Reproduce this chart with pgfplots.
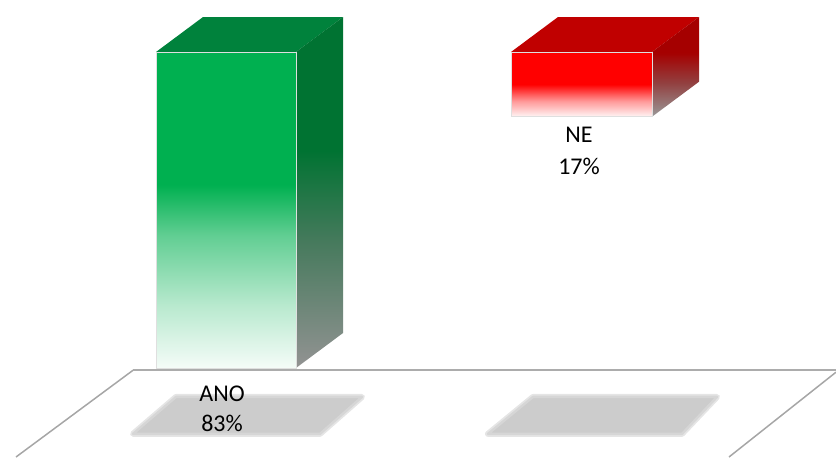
\documentclass[border=0pt]{standalone}
\usepackage{pgfplots}
\pgfplotsset{compat=1.18}
\usepackage{fontspec}
\setmainfont{Carlito}
\definecolor{gfront}{RGB}{0,176,80}
\definecolor{gtop}{RGB}{0,130,60}
\definecolor{gside}{RGB}{0,115,50}
\definecolor{rfront}{RGB}{255,0,0}
\definecolor{rtop}{RGB}{192,0,0}
\definecolor{rside}{RGB}{165,0,0}
\pgfdeclareverticalshading{gfrontsh}{100bp}{color(0bp)=(gfront!4!white); color(25bp)=(gfront!4!white); color(35bp)=(gfront!28!white); color(46bp)=(gfront!62!white); color(54bp)=(gfront); color(75bp)=(gfront); color(100bp)=(gfront)}
\pgfdeclareverticalshading{gsidesh}{100bp}{color(0bp)=(gray!85); color(25bp)=(gray!85); color(43bp)=(gside!45!gray); color(56bp)=(gside); color(75bp)=(gside); color(100bp)=(gside)}
\pgfdeclareverticalshading{rfrontsh}{100bp}{color(0bp)=(rfront!4!white); color(25bp)=(rfront!4!white); color(37bp)=(rfront!40!white); color(50bp)=(rfront); color(75bp)=(rfront); color(100bp)=(rfront)}
\pgfdeclareverticalshading{rsidesh}{100bp}{color(0bp)=(gray!80); color(25bp)=(gray!80); color(42bp)=(rside!50!gray); color(57bp)=(rside); color(75bp)=(rside); color(100bp)=(rside)}
\begin{document}
\begin{tikzpicture}
\begin{axis}[
  width=418pt, height=228.5pt, scale only axis,
  xmin=0, xmax=836, ymin=-13.66, ymax=106.38,
  y dir=reverse, hide axis, clip=true,
]
% floor
\addplot[draw=gray!70, line width=0.75pt] coordinates {(133,83.6) (16,106.38)};
\addplot[draw=gray!65, line width=1.2pt] coordinates {(133,83.6) (836,83.6)};
\addplot[draw=gray!70, line width=0.75pt] coordinates {(836,84.1) (729,106.38)};
% floor shadows
\addplot[fill=gray!20, draw=gray!20, line width=3pt, line join=round] coordinates {(176,90.6) (362,90.6) (320,100.3) (133,100.3)} --cycle;
\addplot[fill=gray!40, draw=gray!32, line width=1.2pt, line join=round] coordinates {(176,90.6) (362,90.6) (320,100.3) (133,100.3)} --cycle;
\addplot[fill=gray!20, draw=gray!20, line width=3pt, line join=round] coordinates {(533,90.6) (717,90.6) (682,100.3) (488,100.3)} --cycle;
\addplot[fill=gray!40, draw=gray!32, line width=1.2pt, line join=round] coordinates {(533,90.6) (717,90.6) (682,100.3) (488,100.3)} --cycle;
% ANO bar (83)
\addplot[fill=gtop, draw=none] coordinates {(156,0) (203,-9.19) (343,-9.19) (296,0)} --cycle;
\addplot[shading=gsidesh, draw=none] coordinates {(296,0) (343,-9.19) (343,73.81) (296,83)} --cycle;
\addplot[ybar, bar width=140, bar shift=0pt, shading=gfrontsh, draw=gray!25, line width=0.4pt] coordinates {(226,83)};
% NE bar (17)
\addplot[fill=rtop, draw=none] coordinates {(511,0) (558,-9.19) (699,-9.19) (652,0)} --cycle;
\addplot[shading=rsidesh, draw=none] coordinates {(652,0) (699,-9.19) (699,7.81) (652,17)} --cycle;
\addplot[ybar, bar width=141, bar shift=0pt, shading=rfrontsh, draw=gray!25, line width=0.4pt] coordinates {(581.5,17)};
% labels
\node[align=center, font=\fontsize{12}{15}\selectfont] at (axis cs:222,93.6) {ANO\\83\%};
\node[align=center, font=\fontsize{12}{16}\selectfont] at (axis cs:579,26.1) {NE\\17\%};
\end{axis}
\path (current axis.south west) rectangle (current axis.north east);
\end{tikzpicture}
\end{document}
